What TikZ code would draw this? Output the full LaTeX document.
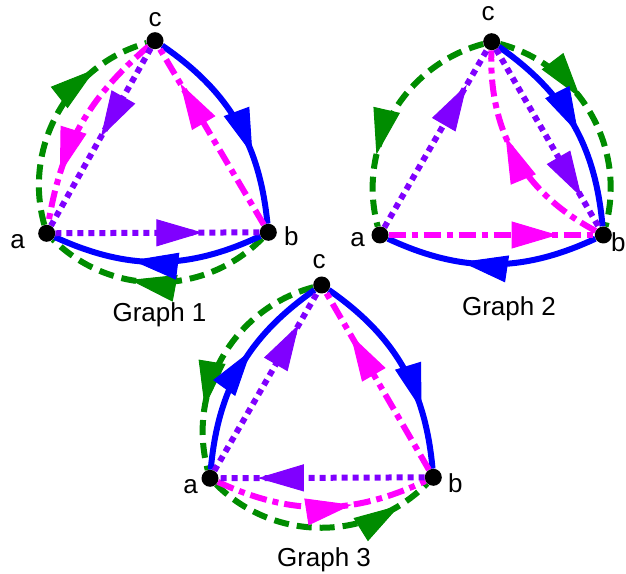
\documentclass[tikz,border=0pt]{standalone}
\usepackage{fontspec}
\setmainfont{Liberation Sans}
\usetikzlibrary{arrows.meta, decorations.markings, backgrounds}
\definecolor{edgeBlue}{HTML}{0000FF}
\definecolor{edgeGreen}{HTML}{008C00}
\definecolor{edgeMagenta}{HTML}{FF00FF}
\definecolor{edgePurple}{HTML}{8000FF}
\tikzset{
  vertex/.style={circle, fill=black, minimum size=17pt, inner sep=0pt},
  letter/.style={font=\fontsize{26}{28}\selectfont, inner sep=0pt},
  caption/.style={font=\fontsize{26}{28}\selectfont, inner sep=0pt, anchor=base},
  tipat/.style={postaction={decorate}, decoration={markings, mark=at position #1 with {\pgfsetdash{}{0pt}\arrow{Triangle[length=46pt,width=27pt,line width=1pt]}}}},
  tipat/.default=0.6,
  blueedge/.style={draw=edgeBlue, line width=6pt},
  greenedge/.style={draw=edgeGreen, line width=6pt, dash pattern=on 15pt off 8pt},
  magentaedge/.style={draw=edgeMagenta, line width=6pt, dash pattern=on 17pt off 6pt on 6pt off 6pt},
  purpleedge/.style={draw=edgePurple, line width=6pt, dash pattern=on 6pt off 5pt}
}

\begin{document}
\begin{tikzpicture}[x=1pt,y=1pt]
\useasboundingbox (0,0) rectangle (626,573);

% Graph 1
\begin{scope}[shift={(46.7,339.7)}]
\node[vertex] (a1) at (0,0) {};
\node[vertex] (b1) at (221.6,1) {};
\node[vertex] (c1) at (108.3,192.6) {};
\node[letter, xshift=-29pt, yshift=-8pt] (la1) at (a1) {a};
\node[letter, xshift=23pt, yshift=-4pt] (lb1) at (b1) {b};
\node[letter, yshift=21pt] (lc1) at (c1) {c};
\begin{scope}[on background layer]
\draw[greenedge, tipat=0.62] (b1) to[bend left=45] (a1);
\draw[greenedge, tipat=0.75] (a1) to[bend left=45] (c1);
\draw[blueedge, tipat=0.67] (c1) to[bend left=25] (b1);
\draw[blueedge, tipat=0.62] (b1) to[bend left=25] (a1);
\draw[magentaedge, tipat=0.8] (b1) -- (c1);
\draw[magentaedge, tipat=0.75] (c1) to[bend right=20] (a1);
\draw[purpleedge, tipat=0.5] (c1) -- (a1);
\draw[purpleedge, tipat=0.72] (a1) -- (b1);
\end{scope}
\end{scope}

% Graph 2
\begin{scope}[shift={(380,338)}]
\node[vertex] (a2) at (0,0) {};
\node[vertex] (b2) at (223.3,0) {};
\node[vertex] (c2) at (111.7,193.3) {};
\node[letter, xshift=-22.5pt, yshift=-5pt] (la2) at (a2) {a};
\node[letter, xshift=15pt, yshift=-7.5pt] (lb2) at (b2) {b};
\node[letter, xshift=-3.5pt, yshift=28pt] (lc2) at (c2) {c};
\begin{scope}[on background layer]
\draw[greenedge, tipat=0.69] (c2) to[bend right=45] (a2);
\draw[greenedge, tipat=0.42] (c2) to[bend left=45] (b2);
\draw[blueedge, tipat=0.55] (c2) to[bend left=25] (b2);
\draw[blueedge, tipat=0.64] (b2) to[bend left=25] (a2);
\draw[magentaedge, tipat=0.82] (a2) -- (b2);
\draw[magentaedge, tipat=0.6] (b2) to[bend left=32] (c2);
\draw[purpleedge, tipat=0.8] (a2) -- (c2);
\draw[purpleedge, tipat=0.83] (c2) -- (b2);
\end{scope}
\end{scope}

% Graph 3
\begin{scope}[shift={(210,94.7)}]
\node[vertex] (a3) at (0,0) {};
\node[vertex] (b3) at (223.3,1) {};
\node[vertex] (c3) at (111.7,193.3) {};
\node[letter, xshift=-19.5pt, yshift=-8.4pt] (la3) at (a3) {a};
\node[letter, xshift=22pt, yshift=-6pt] (lb3) at (b3) {b};
\node[letter, xshift=-2.7pt, yshift=23.5pt] (lc3) at (c3) {c};
\begin{scope}[on background layer]
\draw[greenedge, tipat=0.73] (c3) to[bend right=45] (a3);
\draw[greenedge, tipat=0.85] (a3) to[bend right=45] (b3);
\draw[blueedge, tipat=0.59] (a3) to[bend left=25] (c3);
\draw[blueedge, tipat=0.72] (c3) to[bend left=25] (b3);
\draw[magentaedge, tipat=0.76] (b3) -- (c3);
\draw[magentaedge, tipat=0.64] (a3) to[bend right=25] (b3);
\draw[purpleedge, tipat=0.81] (b3) -- (a3);
\draw[purpleedge, tipat=0.82] (a3) -- (c3);
\end{scope}
\end{scope}

\node[caption] (cap1) at (159.5,251) {Graph 1};
\node[caption] (cap2) at (509,257) {Graph 2};
\node[caption] (cap3) at (324,7) {Graph 3};

\end{tikzpicture}
\end{document}
